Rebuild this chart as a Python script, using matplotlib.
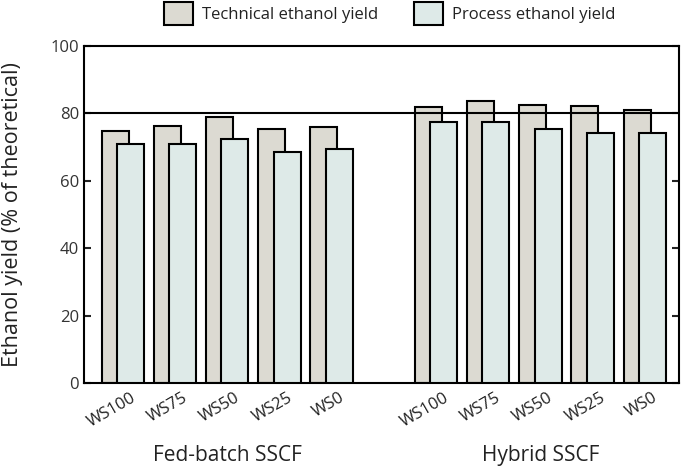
import matplotlib.pyplot as plt
import numpy as np

plt.rcParams['font.family'] = ['Open Sans', 'DejaVu Sans']

samples = ["WS100", "WS75", "WS50", "WS25", "WS0"]
groups = ["Fed-batch SSCF", "Hybrid SSCF"]

# % of theoretical
technical_fed = [74.9, 76.3, 79.0, 75.4, 76.1]
process_fed = [70.9, 70.9, 72.5, 68.5, 69.5]
technical_hyb = [81.8, 83.6, 82.5, 82.2, 80.9]
process_hyb = [77.5, 77.5, 75.5, 74.1, 74.2]

ref_line = 80

technical = technical_fed + technical_hyb
process = process_fed + process_hyb
pos = np.r_[np.arange(5), np.arange(6, 11)]

fig = plt.figure(figsize=(6.85, 4.68), dpi=100)
ax = fig.add_axes([0.1226, 0.1816, 0.8684, 0.7201])

w = 0.517
off = 0.1465
ax.bar(pos - off, technical, w, color="#dcdad2", edgecolor="black", linewidth=1.5,
       label="Technical ethanol yield", zorder=2)
ax.bar(pos + off, process, w, color="#deeae8", edgecolor="black", linewidth=1.5,
       label="Process ethanol yield", zorder=3)
ax.axhline(ref_line, color="black", linewidth=1.5, zorder=4)

ax.set_xlim(-0.745, 10.653)
ax.set_ylim(0, 100)
ax.set_yticks(range(0, 101, 20))
ax.tick_params(axis="y", direction="in", length=5, width=1.5, right=True,
               labelsize=12, colors="#222222", labelcolor="#333333")
ax.set_xticks(pos + off)
ax.set_xticklabels(samples * 2, rotation=30, ha="right", rotation_mode="anchor",
                   fontsize=12, color="#222222")
ax.tick_params(axis="x", length=0, pad=5)
for s in ax.spines.values():
    s.set_linewidth(1.5)

ax.set_ylabel("Ethanol yield (% of theoretical)", fontsize=15.5, color="#222222")
ax.yaxis.set_label_coords(-0.102, 0.5)

for g, c in zip(groups, [2, 8]):
    ax.text(c, -0.215, g, transform=ax.get_xaxis_transform(), ha="center", va="center",
            fontsize=15, color="#222222")

leg = ax.legend(loc="lower center", bbox_to_anchor=(0.514, 1.0), ncol=2, frameon=False,
                fontsize=12, handlelength=1.75, handleheight=1.75, columnspacing=2.1,
                handletextpad=0.55, borderaxespad=0.85)
for t in leg.get_texts():
    t.set_color("#222222")

fig.savefig("out.png", dpi=100)
